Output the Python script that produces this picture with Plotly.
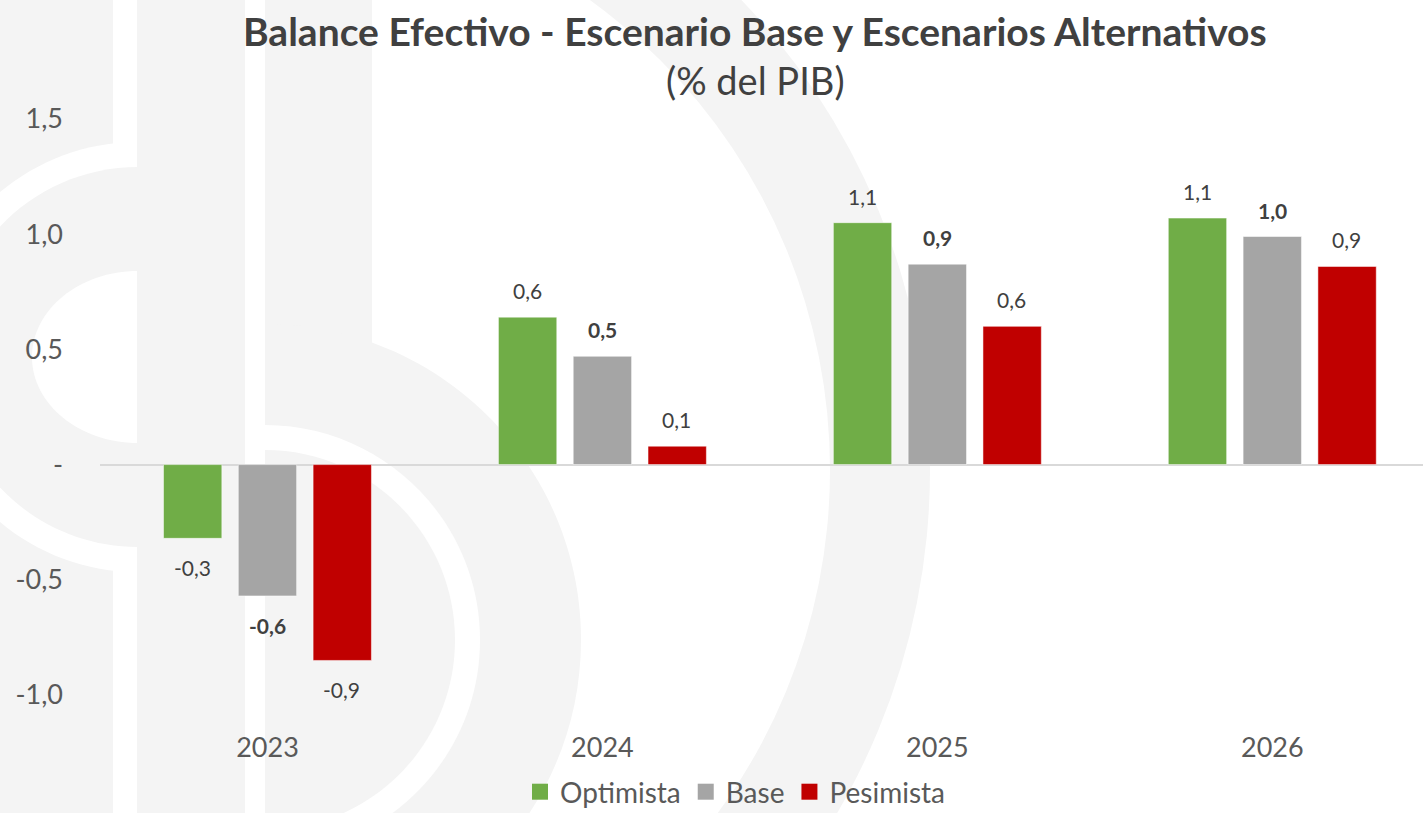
import plotly.graph_objects as go

years = ["2023", "2024", "2025", "2026"]
optimista = [-0.32, 0.64, 1.05, 1.07]
base = [-0.57, 0.47, 0.87, 0.99]
pesimista = [-0.85, 0.08, 0.60, 0.86]
lbl_optimista = ["-0,3", "0,6", "1,1", "1,1"]
lbl_base = ["-0,6", "0,5", "0,9", "1,0"]
lbl_pesimista = ["-0,9", "0,1", "0,6", "0,9"]

ytick_vals = [-1.0, -0.5, 0.0, 0.5, 1.0, 1.5]
ytick_text = ["-1,0", "-0,5", "-", "0,5", "1,0", "1,5"]

GREEN = "#70ad47"
GREY = "#a5a5a5"
RED = "#c00000"
TXT = "#404040"
WM = "#f4f4f4"

# plot area in pixels (left, right, top, bottom)
PL, PR, PT, PB = 100, 1423, 119, 695
K = 0.5523  # bezier circle constant


def px(x):
    return (x - PL) / (PR - PL)


def py(y):
    return (PB - y) / (PB - PT)


def pt(x, y):
    return f"{px(x):.5f},{py(y):.5f}"


def circ(cx, cy, r, col):
    return dict(type="circle", xref="paper", yref="paper", layer="below",
                x0=px(cx - r), x1=px(cx + r), y0=py(cy + r), y1=py(cy - r),
                fillcolor=col, line=dict(width=0))


def half_disc(cx, cy, ry, col, side, rx=None):
    # half ellipse, flat edge on the vertical line through the centre
    rx = rx or ry
    s = -1 if side == "left" else 1
    ex = cx + s * rx
    d = (f"M{pt(cx, cy - ry)} "
         f"C{pt(cx + s * K * rx, cy - ry)} {pt(ex, cy - K * ry)} {pt(ex, cy)} "
         f"C{pt(ex, cy + K * ry)} {pt(cx + s * K * rx, cy + ry)} {pt(cx, cy + ry)} Z")
    return dict(type="path", xref="paper", yref="paper", layer="below",
                path=d, fillcolor=col, line=dict(width=0))


def rect(x0, y0, x1, y1, col):
    return dict(type="rect", xref="paper", yref="paper", layer="below",
                x0=px(x0), x1=px(x1), y0=py(y1), y1=py(y0),
                fillcolor=col, line=dict(width=0))


# faint logo watermark in the background
W = "white"
shapes = [
    circ(250, 470, 680, WM),
    circ(250, 470, 580, W),
    rect(0, 0, 245, 813, WM),
    half_disc(138, 357, 215, W, "left"),
    half_disc(138, 357, 190, WM, "left"),
    half_disc(138, 357, 86, W, "left", rx=106),
    rect(113, 0, 138, 150, W),
    rect(113, 565, 138, 813, W),
    rect(137, 0, 245, 813, WM),
    rect(265, 0, 372, 640, WM),
    half_disc(265, 640, 316, WM, "right"),
    half_disc(265, 640, 215, W, "right"),
    half_disc(265, 640, 190, WM, "right"),
    rect(245, 0, 265, 430, W),
]

fig = go.Figure()
series = [("Optimista", optimista, lbl_optimista, GREEN, False),
          ("Base", base, lbl_base, GREY, True),
          ("Pesimista", pesimista, lbl_pesimista, RED, False)]
bar_pitch = 74.5  # px between bars of one group
for k, (name, vals, lbls, col, bold) in enumerate(series):
    fig.add_trace(go.Bar(
        name=name, x=years, y=vals, showlegend=False,
        marker=dict(color=col, line=dict(color="rgba(255,255,255,0.5)", width=1)),
    ))
    for i, (v, t) in enumerate(zip(vals, lbls)):
        fig.add_annotation(
            x=i, y=v, xref="x", yref="y", showarrow=False,
            text=f"<b>{t}</b>" if bold else t,
            xshift=(k - 1) * bar_pitch, yshift=12 if v >= 0 else -15,
            yanchor="bottom" if v >= 0 else "top",
            font=dict(size=21, color=TXT))

# legend entries with bigger square keys
for name, _, _, col, _ in series:
    fig.add_trace(go.Scatter(
        name=name, x=[None], y=[None], mode="markers",
        marker=dict(symbol="square", size=16, color=col)))

fig.add_annotation(
    text="<b>Balance Efectivo - Escenario Base y Escenarios Alternativos</b>",
    xref="paper", yref="paper", x=px(755), y=py(31), showarrow=False,
    xanchor="center", yanchor="middle", font=dict(size=39, color=TXT))
fig.add_annotation(
    text="(% del PIB)", xref="paper", yref="paper", x=px(755), y=py(80),
    showarrow=False, xanchor="center", yanchor="middle",
    font=dict(size=38, color=TXT))

fig.update_layout(
    width=1423, height=813,
    margin=dict(l=PL, r=1423 - PR, t=PT, b=813 - PB, autoexpand=False),
    paper_bgcolor="white",
    plot_bgcolor="rgba(0,0,0,0)",
    font=dict(family="Lato, 'Open Sans', sans-serif", color="#595959"),
    barmode="group", bargap=0.33, bargroupgap=0.22,
    shapes=shapes,
    showlegend=True,
    legend=dict(orientation="h", x=px(735), y=py(792), xanchor="center",
                yanchor="middle", font=dict(size=28, color="#595959"),
                bgcolor="rgba(0,0,0,0)", itemwidth=30, itemsizing="trace"),
    xaxis=dict(type="category", range=[-0.5, 3.45], showgrid=False,
               showline=False, ticks="",
               tickfont=dict(size=27, color="#595959"),
               ticklabelstandoff=34),
    yaxis=dict(range=[-1.0, 1.5], tickvals=ytick_vals, ticktext=ytick_text,
               showgrid=False, showline=False, zeroline=True,
               zerolinecolor="#d9d9d9", zerolinewidth=2,
               tickfont=dict(size=27, color="#595959"),
               ticklabelstandoff=36),
)

fig.write_html("out.html", config={"displayModeBar": False},
               post_script="document.body.style.margin='0';")
